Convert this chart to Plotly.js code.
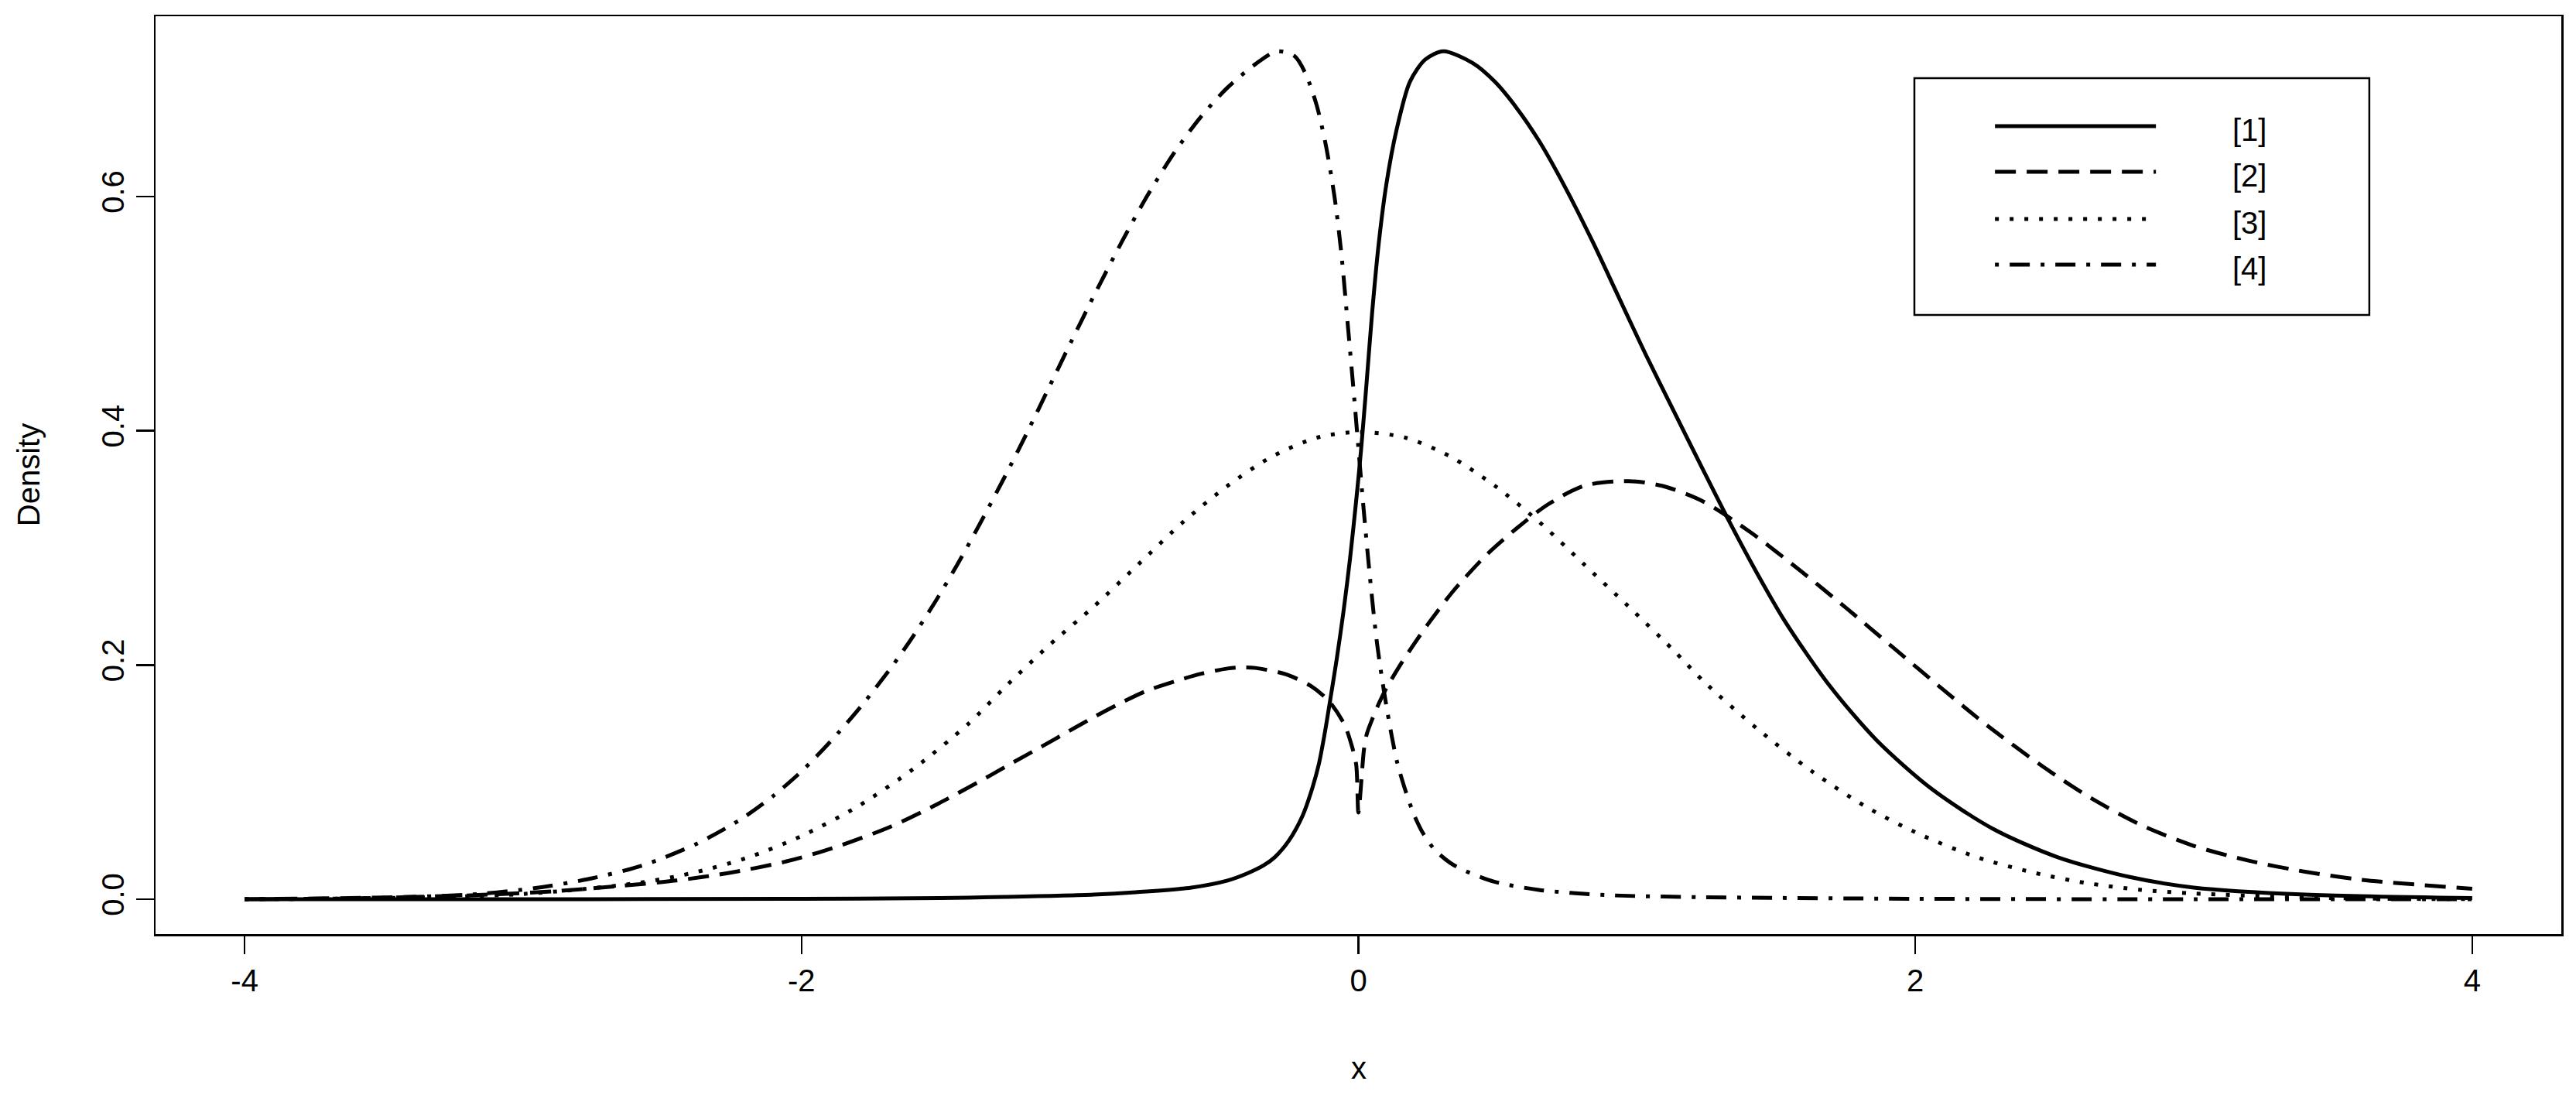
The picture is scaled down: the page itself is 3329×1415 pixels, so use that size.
<!DOCTYPE html>
<html>
<head>
<meta charset="utf-8">
<script src="https://cdn.plot.ly/plotly-3.0.1.min.js"></script>
<style>
  html, body { margin: 0; padding: 0; background: #ffffff; }
  #chart { width: 3329px; height: 1415px; }
</style>
</head>
<body>
<div id="chart"></div>
<script>
// ---- data ----
const seriesNames = ["[1]", "[2]", "[3]", "[4]"];

// [1] solid
const x1 = [-4, -3, -2, -1.5, -1.27, -0.95, -0.8, -0.6, -0.47, -0.4, -0.34, -0.3, -0.25, -0.2, -0.17, -0.142, -0.12, -0.1, -0.078, -0.054, -0.03, -0.006, 0.01, 0.029, 0.049, 0.073, 0.1, 0.137, 0.185, 0.24, 0.305, 0.41, 0.49, 0.57, 0.65, 0.74, 0.84, 0.935, 1.03, 1.13, 1.235, 1.333, 1.43, 1.53, 1.69, 1.86, 2.06, 2.28, 2.51, 2.77, 3.0, 3.4, 4.0];
const y1 = [0, 0, 0.0004, 0.001, 0.002, 0.004, 0.006, 0.010, 0.016, 0.022, 0.029, 0.036, 0.050, 0.0716, 0.0915, 0.1155, 0.143, 0.172, 0.205, 0.245, 0.291, 0.345, 0.385, 0.44, 0.50, 0.56, 0.61, 0.657, 0.698, 0.717, 0.724, 0.714, 0.698, 0.675, 0.647, 0.609, 0.562, 0.514, 0.466, 0.418, 0.368, 0.322, 0.279, 0.238, 0.183, 0.136, 0.094, 0.060, 0.036, 0.019, 0.010, 0.004, 0.001];

// [2] dashed
const x2 = [-4, -3.5, -3.16, -2.88, -2.67, -2.45, -2.26, -2.06, -1.89, -1.68, -1.51, -1.32, -1.25, -1.14, -1.04, -0.95, -0.85, -0.76, -0.66, -0.565, -0.47, -0.42, -0.37, -0.26, -0.17, -0.105, -0.05, -0.025, -0.008, 0, 0.02, 0.03, 0.05, 0.075, 0.1, 0.15, 0.2, 0.25, 0.34, 0.46, 0.57, 0.68, 0.81, 0.97, 1.09, 1.235, 1.41, 1.59, 1.75, 1.92, 2.10, 2.26, 2.46, 2.63, 2.81, 3.0, 3.2, 3.4, 3.6, 4.0];
const y2 = [0, 0.0015, 0.0036, 0.007, 0.011, 0.016, 0.0225, 0.032, 0.0435, 0.062, 0.0815, 0.106, 0.1155, 0.130, 0.1435, 0.1555, 0.168, 0.178, 0.186, 0.1925, 0.197, 0.198, 0.1975, 0.192, 0.182, 0.169, 0.149, 0.132, 0.115, 0.074, 0.128, 0.141, 0.154, 0.168, 0.180, 0.200, 0.218, 0.235, 0.263, 0.294, 0.317, 0.337, 0.353, 0.357, 0.353, 0.340, 0.313, 0.280, 0.249, 0.215, 0.179, 0.148, 0.113, 0.0865, 0.0635, 0.0456, 0.0328, 0.0235, 0.0167, 0.009];

// [3] dotted
const x3 = [-4, -3.5, -3, -2.6, -2.4, -2.2, -2.0, -1.8, -1.6, -1.4, -1.27, -1.11, -0.95, -0.79, -0.63, -0.47, -0.31, -0.15, 0, 0.17, 0.33, 0.49, 0.65, 0.81, 0.97, 1.13, 1.24, 1.43, 1.63, 1.83, 2.02, 2.22, 2.42, 2.61, 2.81, 3.0, 3.5, 4];
const y3 = [0.0001, 0.001, 0.0045, 0.0135, 0.022, 0.035, 0.054, 0.079, 0.111, 0.150, 0.181, 0.217, 0.250, 0.286, 0.322, 0.353, 0.378, 0.394, 0.399, 0.394, 0.378, 0.353, 0.322, 0.286, 0.250, 0.213, 0.186, 0.146, 0.109, 0.078, 0.055, 0.036, 0.023, 0.014, 0.008, 0.005, 0.001, 0.0001];

// [4] dash-dot
const x4 = [-4, -3.55, -3.16, -2.96, -2.77, -2.57, -2.38, -2.22, -2.10, -1.99, -1.87, -1.77, -1.67, -1.60, -1.52, -1.44, -1.36, -1.27, -1.19, -1.11, -1.03, -0.95, -0.85, -0.76, -0.66, -0.565, -0.47, -0.37, -0.293, -0.23, -0.19, -0.15, -0.118, -0.086, -0.062, -0.038, -0.014, 0, 0.018, 0.041, 0.065, 0.085, 0.104, 0.12, 0.14, 0.17, 0.2, 0.233, 0.275, 0.33, 0.376, 0.488, 0.648, 0.887, 1.234, 2, 3, 4];
const y4 = [0, 0.001, 0.0045, 0.0095, 0.017, 0.029, 0.047, 0.068, 0.0885, 0.1115, 0.1415, 0.1695, 0.2005, 0.2243, 0.2539, 0.2859, 0.3203, 0.3608, 0.3984, 0.4376, 0.4768, 0.5152, 0.5612, 0.5999, 0.6379, 0.6683, 0.693, 0.713, 0.724, 0.72, 0.705, 0.678, 0.645, 0.600, 0.553, 0.490, 0.425, 0.385, 0.335, 0.276, 0.222, 0.188, 0.160, 0.139, 0.116, 0.092, 0.072, 0.056, 0.042, 0.031, 0.025, 0.015, 0.008, 0.0036, 0.0018, 0.0004, 0, 0];

const xTickVals = [-4, -2, 0, 2, 4];
const xTickText = ["-4", "-2", "0", "2", "4"];
const yTickVals = [0, 0.2, 0.4, 0.6];
const yTickText = ["0.0", "0.2", "0.4", "0.6"];
const xTitle = "x";
const yTitle = "Density";

// ---- styles ----
const FONT = "Liberation Sans, Arial, sans-serif";
const FS = 40;
const LW = 5;
const dashes = ["solid", "27px,14px", "5px,14px", "5px,14px,26px,14px"];
const xs = [x1, x2, x3, x4];
const ys = [y1, y2, y3, y4];

const traces = seriesNames.map((nm, i) => ({
  type: "scatter",
  mode: "lines",
  name: nm,
  x: xs[i],
  y: ys[i],
  line: { color: "#000000", width: LW, dash: dashes[i], shape: "spline", smoothing: 0.8 },
  showlegend: false,
  hoverinfo: "skip"
}));

// legend box (paper coords)
const legL = 0.7311, legR = 0.9202, legT = 0.9325, legB = 0.6745;
const legLineX0 = 0.7646, legLineX1 = 0.8315, legTextX = 0.8704;
const legRows = [0.8803, 0.8305, 0.7791, 0.7293];

const shapes = [
  { type: "rect", xref: "paper", yref: "paper", x0: legL, x1: legR, y0: legB, y1: legT,
    line: { color: "#000000", width: 2.5 }, fillcolor: "rgba(0,0,0,0)" }
];
seriesNames.forEach((nm, i) => {
  shapes.push({ type: "line", xref: "paper", yref: "paper",
    x0: legLineX0, x1: legLineX1, y0: legRows[i], y1: legRows[i],
    line: { color: "#000000", width: LW, dash: dashes[i] } });
});

const annotations = [
  { text: xTitle, xref: "paper", yref: "paper", x: 0.5, y: -0.1459, xanchor: "center", yanchor: "middle",
    showarrow: false, font: { family: FONT, size: FS, color: "#000000" } },
  { text: yTitle, xref: "paper", yref: "paper", x: -0.0527, y: 0.5, xanchor: "center", yanchor: "middle",
    textangle: -90, showarrow: false, font: { family: FONT, size: FS, color: "#000000" } }
];
seriesNames.forEach((nm, i) => {
  annotations.push({ text: nm, xref: "paper", yref: "paper", x: legTextX, y: legRows[i] - 0.004,
    xanchor: "center", yanchor: "middle", showarrow: false,
    font: { family: FONT, size: FS, color: "#000000" } });
});

const axisCommon = {
  showgrid: false, zeroline: false,
  showline: true, linecolor: "#000000", linewidth: 2.5, mirror: true,
  ticks: "outside", ticklen: 23, tickwidth: 2.5, tickcolor: "#000000",
  tickfont: { family: FONT, size: FS, color: "#000000" },
  tickmode: "array", fixedrange: true
};

const layout = {
  width: 3329, height: 1415,
  margin: { l: 201, r: 19, t: 21, b: 208, pad: 0 },
  paper_bgcolor: "#ffffff", plot_bgcolor: "#ffffff",
  showlegend: false,
  xaxis: Object.assign({}, axisCommon, {
    range: [-4.32, 4.32], tickvals: xTickVals, ticktext: xTickText
  }),
  yaxis: Object.assign({}, axisCommon, {
    range: [-0.0297, 0.7539], tickvals: yTickVals, ticktext: yTickText, tickangle: -90
  }),
  shapes: shapes,
  annotations: annotations
};

Plotly.newPlot("chart", traces, layout, { staticPlot: true, displayModeBar: false });
</script>
</body>
</html>
